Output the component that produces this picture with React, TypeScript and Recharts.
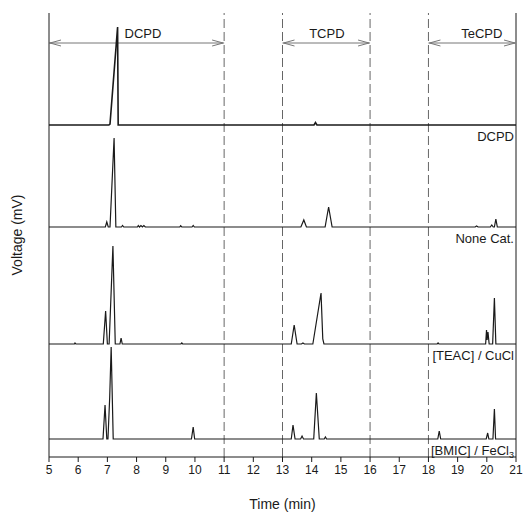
import React from 'react';
import { LineChart, Line, XAxis, YAxis, ReferenceLine } from 'recharts';

document.body.style.margin = '0';

// time axis (min)
const TIME_TICKS = [5, 6, 7, 8, 9, 10, 11, 12, 13, 14, 15, 16, 17, 18, 19, 20, 21];
const REGION_BOUNDS = [11, 13, 16, 18];

// product regions marked on the top trace
const REGIONS = [
  { name: 'DCPD', from: 5, to: 11, labelAt: 8.22 },
  { name: 'TCPD', from: 13, to: 16, labelAt: 14.52 },
  { name: 'TeCPD', from: 18, to: 21, labelAt: 19.83 },
];
const REGION_ARROW_LEVEL = 82;

// chromatogram traces (t = min, v = mV)
const DCPD_TRACE = [
  { t: 5, v: 0 }, { t: 7.05, v: 0 }, { t: 7.09, v: 1 }, { t: 7.35, v: 98 }, { t: 7.37, v: 0 },
  { t: 14.08, v: 0 }, { t: 14.13, v: 2.5 }, { t: 14.18, v: 0 }, { t: 21, v: 0 },
];

const NONE_CAT_TRACE = [
  { t: 5, v: 0 }, { t: 6.93, v: 0 }, { t: 6.98, v: 5 }, { t: 7.03, v: 0 }, { t: 7.09, v: 0 },
  { t: 7.23, v: 89 }, { t: 7.29, v: 0 }, { t: 7.48, v: 0 }, { t: 7.52, v: 1.5 }, { t: 7.56, v: 0 },
  { t: 8.03, v: 0 }, { t: 8.06, v: 1.5 }, { t: 8.1, v: 0 }, { t: 8.15, v: 1.5 }, { t: 8.2, v: 0 },
  { t: 8.25, v: 1.5 }, { t: 8.3, v: 0 }, { t: 9.48, v: 0 }, { t: 9.51, v: 1.2 }, { t: 9.55, v: 0 },
  { t: 9.9, v: 0 }, { t: 9.94, v: 1.5 }, { t: 9.98, v: 0 }, { t: 13.63, v: 0 }, { t: 13.73, v: 7 },
  { t: 13.82, v: 0 }, { t: 14.46, v: 0 }, { t: 14.58, v: 20 }, { t: 14.7, v: 0 }, { t: 19.6, v: 0 },
  { t: 19.65, v: 1 }, { t: 19.7, v: 0 }, { t: 20.12, v: 0 }, { t: 20.17, v: 2 }, { t: 20.22, v: 0 },
  { t: 20.26, v: 0 }, { t: 20.31, v: 8 }, { t: 20.36, v: 0 }, { t: 21, v: 0 },
];

const TEAC_TRACE = [
  { t: 5, v: 0 }, { t: 5.87, v: 0 }, { t: 5.89, v: 1 }, { t: 5.92, v: 0 }, { t: 6.86, v: 0 },
  { t: 6.94, v: 33 }, { t: 7.0, v: 0 }, { t: 7.06, v: 0 }, { t: 7.19, v: 98 }, { t: 7.27, v: 0 },
  { t: 7.43, v: 0 }, { t: 7.47, v: 6 }, { t: 7.51, v: 0 }, { t: 9.52, v: 0 }, { t: 9.55, v: 1 },
  { t: 9.58, v: 0 }, { t: 13.3, v: 0 }, { t: 13.4, v: 19 }, { t: 13.5, v: 0 }, { t: 13.65, v: 0 },
  { t: 13.7, v: 1 }, { t: 13.75, v: 0 }, { t: 14.04, v: 0 }, { t: 14.32, v: 51 }, { t: 14.38, v: 5 },
  { t: 14.42, v: 0 }, { t: 18.3, v: 0 }, { t: 18.33, v: 1 }, { t: 18.36, v: 0 }, { t: 19.96, v: 0 },
  { t: 19.99, v: 14 }, { t: 20.01, v: 4 }, { t: 20.04, v: 12 }, { t: 20.08, v: 0 }, { t: 20.2, v: 0 },
  { t: 20.26, v: 46 }, { t: 20.31, v: 0 }, { t: 21, v: 0 },
];

const BMIC_TRACE = [
  { t: 5, v: 0 }, { t: 6.85, v: 0 }, { t: 6.92, v: 34 }, { t: 6.98, v: 0 }, { t: 7.02, v: 0 },
  { t: 7.08, v: 42 }, { t: 7.13, v: 92 }, { t: 7.2, v: 0 }, { t: 9.88, v: 0 }, { t: 9.94, v: 12 },
  { t: 9.99, v: 0 }, { t: 13.3, v: 0 }, { t: 13.36, v: 14 }, { t: 13.43, v: 0 }, { t: 13.62, v: 0 },
  { t: 13.67, v: 3 }, { t: 13.72, v: 0 }, { t: 14.07, v: 0 }, { t: 14.16, v: 46 }, { t: 14.26, v: 0 },
  { t: 14.43, v: 0 }, { t: 14.47, v: 2 }, { t: 14.51, v: 0 }, { t: 18.32, v: 0 }, { t: 18.37, v: 8 },
  { t: 18.42, v: 0 }, { t: 19.98, v: 0 }, { t: 20.03, v: 6 }, { t: 20.07, v: 0 }, { t: 20.21, v: 0 },
  { t: 20.26, v: 30 }, { t: 20.3, v: 0 }, { t: 21, v: 0 },
];

// layout: plot box and where each trace's zero sits (px from top of page)
const PLOT_TOP = 13;
const PLOT_BOTTOM = 457;
const TRACES = [
  { id: 't1', data: DCPD_TRACE, label: 'DCPD', sub: '', base: 125, width: 1.6 },
  { id: 't2', data: NONE_CAT_TRACE, label: 'None Cat.', sub: '', base: 227, width: 1.2 },
  { id: 't3', data: TEAC_TRACE, label: '[TEAC] / CuCl', sub: '', base: 344, width: 1.2 },
  { id: 't4', data: BMIC_TRACE, label: '[BMIC] / FeCl', sub: '3', base: 439, width: 1.2 },
];

const INK = '#1a1a1a';

const RangeArrow = (props: any) => {
  const { x1, y1, x2, y2, name, from, to, labelAt } = props;
  const lx = x1 + ((x2 - x1) * (labelAt - from)) / (to - from);
  return (
    <g>
      <line x1={x1} y1={y1} x2={x2} y2={y2} stroke="#777" strokeWidth={1} />
      <polyline points={`${x1 + 12},${y1 - 3} ${x1 + 1},${y1} ${x1 + 12},${y1 + 3}`} fill="none" stroke="#777" />
      <polyline points={`${x2 - 12},${y2 - 3} ${x2 - 1},${y2} ${x2 - 12},${y2 + 3}`} fill="none" stroke="#777" />
      <text x={lx} y={y1 - 5.5} textAnchor="middle" fontSize={13} fill={INK}>
        {name}
      </text>
    </g>
  );
};

const traceTag = (text: string, sub: string) => (p: any) => {
  const vb = p.viewBox || {};
  const x = (vb.x || 0) + (vb.width || 0) - 2;
  const y = (vb.y || 0) + 16;
  return (
    <text x={x} y={y} textAnchor="end" fontSize={13} fill={INK}>
      {text}
      {sub ? (
        <tspan dy={3} fontSize={9}>
          {sub}
        </tspan>
      ) : null}
    </text>
  );
};

export default function App() {
  return (
    <div style={{ width: 527, height: 512, fontFamily: 'Arial, "Liberation Sans", sans-serif', background: '#fff' }}>
      <LineChart width={527} height={512} margin={{ top: PLOT_TOP, right: 11, left: 9, bottom: 1 }}>
        <XAxis
          type="number"
          dataKey="t"
          domain={[5, 21]}
          ticks={TIME_TICKS}
          interval={0}
          allowDataOverflow
          height={54}
          tickSize={5}
          tickMargin={3}
          tick={{ fill: INK, fontSize: 12 }}
          axisLine={{ stroke: INK }}
          tickLine={{ stroke: INK }}
          label={{ value: 'Time (min)', position: 'insideBottom', offset: 2, fill: INK, fontSize: 14 }}
        />
        <XAxis
          xAxisId="top"
          orientation="top"
          type="number"
          domain={[5, 21]}
          allowDataOverflow
          height={0}
          tick={false}
          tickLine={false}
          axisLine={{ stroke: INK }}
        />
        <YAxis
          yAxisId="frame"
          domain={[0, 1]}
          width={40}
          tick={false}
          tickLine={false}
          axisLine={{ stroke: INK }}
          label={{
            value: 'Voltage (mV)',
            angle: -90,
            position: 'insideLeft',
            offset: 8,
            fill: INK,
            fontSize: 14,
            style: { textAnchor: 'middle' },
          }}
        />
        {TRACES.map((tr) => (
          <YAxis
            key={tr.id}
            yAxisId={tr.id}
            hide
            allowDataOverflow
            domain={[-(PLOT_BOTTOM - tr.base), tr.base - PLOT_TOP]}
          />
        ))}

        <ReferenceLine yAxisId="t1" x={21} stroke={INK} />
        {REGION_BOUNDS.map((x) => (
          <ReferenceLine key={x} yAxisId="t1" x={x} stroke="#666" strokeDasharray="9 4" />
        ))}

        {REGIONS.map((r) => (
          <ReferenceLine
            key={r.name}
            yAxisId="t1"
            segment={[
              { x: r.from, y: REGION_ARROW_LEVEL },
              { x: r.to, y: REGION_ARROW_LEVEL },
            ]}
            shape={(p: any) => <RangeArrow {...p} name={r.name} from={r.from} to={r.to} labelAt={r.labelAt} />}
          />
        ))}

        {TRACES.map((tr) => (
          <ReferenceLine key={`tag-${tr.id}`} yAxisId={tr.id} y={0} stroke="none" label={traceTag(tr.label, tr.sub)} />
        ))}

        {TRACES.map((tr) => (
          <Line
            key={`line-${tr.id}`}
            yAxisId={tr.id}
            data={tr.data}
            dataKey="v"
            type="linear"
            stroke={INK}
            strokeWidth={tr.width}
            dot={false}
            activeDot={false}
            isAnimationActive={false}
          />
        ))}
      </LineChart>
    </div>
  );
}
